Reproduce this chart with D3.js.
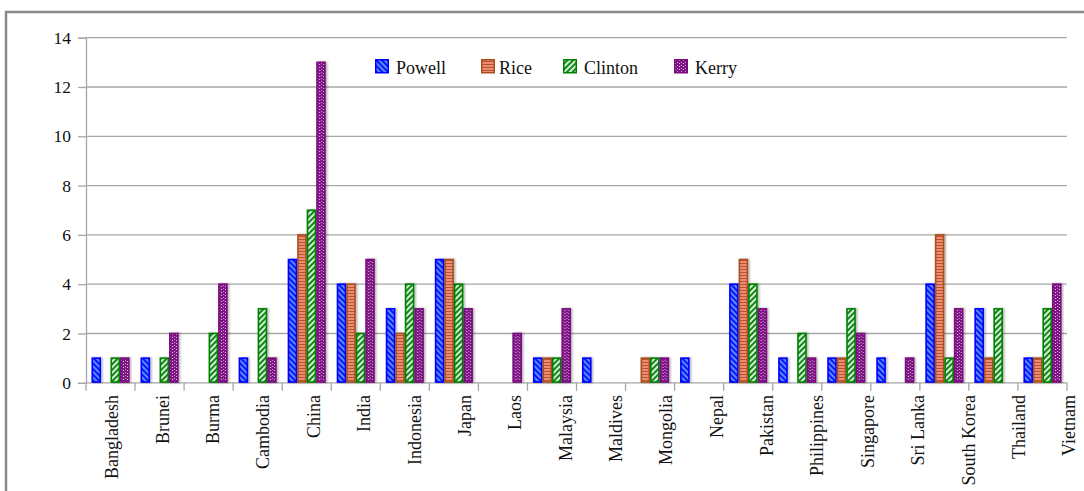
<!DOCTYPE html>
<html>
<head>
<meta charset="utf-8">
<script src="https://cdn.jsdelivr.net/npm/d3@7"></script>
<style>
  html, body { margin: 0; padding: 0; background: #fff; }
  svg { display: block; }
  text { font-family: "Liberation Serif", "Times New Roman", serif; fill: #111; }
</style>
</head>
<body>
<svg id="chart" width="1084" height="491"></svg>
<script>
const categories = ["Bangladesh","Brunei","Burma","Cambodia","China","India","Indonesia","Japan","Laos","Malaysia","Maldives","Mongolia","Nepal","Pakistan","Philippines","Singapore","Sri Lanka","South Korea","Thailand","Vietnam"];
const seriesNames = ["Powell","Rice","Clinton","Kerry"];
const powell  = [1,1,0,1,5,4,3,5,0,1,1,0,1,4,1,1,1,4,3,1];
const rice    = [0,0,0,0,6,4,2,5,0,1,0,1,0,5,0,1,0,6,1,1];
const clinton = [1,1,2,3,7,2,4,4,0,1,0,1,0,4,2,3,0,1,3,3];
const kerry   = [1,2,4,1,13,5,3,3,2,3,0,1,0,3,1,2,1,3,0,4];
const yTicks  = [0,2,4,6,8,10,12,14];

const seriesValues = [powell, rice, clinton, kerry];
const data = categories.map((c, i) => ({
  cat: c,
  vals: seriesNames.map((s, j) => ({ s, v: seriesValues[j][i] }))
}));

const svg = d3.select("#chart");
const L = 86, R = 1067, T = 37.7, B = 382.8;

const x0 = d3.scaleBand().domain(categories).range([L, R]).paddingInner(0).paddingOuter(0);
const x1 = d3.scaleBand().domain(seriesNames).range([0, x0.bandwidth()]).paddingInner(0).paddingOuter(0.58);
const y = d3.scaleLinear().domain([0, 14]).range([B, T]);
const xLabel = d3.scalePoint().domain(categories).range([112, 1069]);

// patterns
const defs = svg.append("defs");
function stripePattern(id, base, stripe, angle, size, sw) {
  const p = defs.append("pattern").attr("id", id).attr("patternUnits", "userSpaceOnUse")
    .attr("width", size).attr("height", size).attr("patternTransform", `rotate(${angle})`);
  p.append("rect").attr("width", size).attr("height", size).attr("fill", base);
  p.append("line").attr("x1", size/2).attr("y1", 0).attr("x2", size/2).attr("y2", size)
    .attr("stroke", stripe).attr("stroke-width", sw);
}
stripePattern("pPowell", "#0a14ff", "#7fd0ff", -45, 4, 1.3);
stripePattern("pClinton", "#0b8a12", "#ffffff", 45, 4, 1.7);
{
  const p = defs.append("pattern").attr("id", "pRice").attr("patternUnits", "userSpaceOnUse")
    .attr("width", 4).attr("height", 3);
  p.append("rect").attr("width", 4).attr("height", 3).attr("fill", "#ef8a76");
  p.append("rect").attr("y", 2).attr("width", 4).attr("height", 1).attr("fill", "#b4552a");
}
{
  const p = defs.append("pattern").attr("id", "pKerry").attr("patternUnits", "userSpaceOnUse")
    .attr("width", 4).attr("height", 3);
  p.append("rect").attr("width", 4).attr("height", 3).attr("fill", "#7d1383");
  p.append("rect").attr("x", 1).attr("y", 1).attr("width", 1).attr("height", 1).attr("fill", "#e8c8ec");
  p.append("rect").attr("x", 3).attr("y", 0).attr("width", 1).attr("height", 1).attr("fill", "#c89ad0");
}
const fills = { Powell: "url(#pPowell)", Rice: "url(#pRice)", Clinton: "url(#pClinton)", Kerry: "url(#pKerry)" };
const strokes = { Powell: "#0000ff", Rice: "#a8501c", Clinton: "#008000", Kerry: "#7a0a7e" };

const f = defs.append("filter").attr("id", "shadow").attr("x", "-30%").attr("y", "-5%").attr("width", "170%").attr("height", "115%");
f.append("feDropShadow").attr("dx", 1.5).attr("dy", 0).attr("stdDeviation", 0.8)
  .attr("flood-color", "#000").attr("flood-opacity", 0.3);

// frame
svg.append("path").attr("d", "M6,495 L6,12 L1090,12").attr("fill", "none")
  .attr("stroke", "#8a8a8a").attr("stroke-width", 2.5);

// gridlines
svg.append("g").selectAll("line").data(yTicks).join("line")
  .attr("x1", L).attr("x2", R).attr("y1", d => y(d)).attr("y2", d => y(d))
  .attr("stroke", "#a6a6a6").attr("stroke-width", 1.3);

// y axis
const yAxis = svg.append("g").attr("transform", `translate(${L},0)`)
  .call(d3.axisLeft(y).tickValues(yTicks).tickSize(8).tickPadding(7).tickFormat(d3.format("d")));
yAxis.attr("font-family", "Liberation Serif, serif").attr("font-size", 17.5);
yAxis.select(".domain").attr("stroke", "#a6a6a6").attr("stroke-width", 1.3);
yAxis.selectAll(".tick line").attr("stroke", "#a6a6a6").attr("stroke-width", 1.3);
yAxis.selectAll(".tick text").attr("fill", "#111")
  .style("font-family", '"Liberation Serif", serif').style("font-size", "17.5px");

// x axis ticks at band boundaries
const bounds = categories.map(c => x0(c)).concat([R]);
svg.append("g").selectAll("line").data(bounds).join("line")
  .attr("x1", d => d).attr("x2", d => d).attr("y1", B).attr("y2", B + 8)
  .attr("stroke", "#a6a6a6").attr("stroke-width", 1.3);

// bars
const groups = svg.append("g").selectAll("g").data(data).join("g")
  .attr("transform", d => `translate(${x0(d.cat)},0)`);
groups.selectAll("rect").data(d => d.vals.filter(v => v.v > 0)).join("rect")
  .attr("x", d => x1(d.s) + 0.75)
  .attr("width", x1.bandwidth() - 1.5)
  .attr("y", d => y(d.v))
  .attr("height", d => B - y(d.v) - 0.75)
  .attr("fill", d => fills[d.s])
  .attr("stroke", d => strokes[d.s])
  .attr("stroke-width", 1.6)
  .attr("filter", "url(#shadow)");

// x labels
svg.append("g").selectAll("text").data(categories).join("text")
  .attr("transform", d => `translate(${xLabel(d)},395) rotate(-90)`)
  .attr("text-anchor", "end")
  .attr("dy", "0.35em")
  .style("font-size", "18px")
  .text(d => d);

// legend
const legendX = { Powell: 375, Rice: 481, Clinton: 563, Kerry: 674 };
const lg = svg.append("g").selectAll("g").data(seriesNames).join("g")
  .attr("transform", d => `translate(${legendX[d]},59)`);
lg.append("rect").attr("x", 0.75).attr("y", 0.75).attr("width", 12.5).attr("height", 13)
  .attr("fill", d => fills[d]).attr("stroke", d => strokes[d]).attr("stroke-width", 1.5);
lg.append("text").attr("x", d => d === "Rice" ? 18 : 21).attr("y", 15)
  .style("font-size", "18px").text(d => d);
</script>
</body>
</html>
